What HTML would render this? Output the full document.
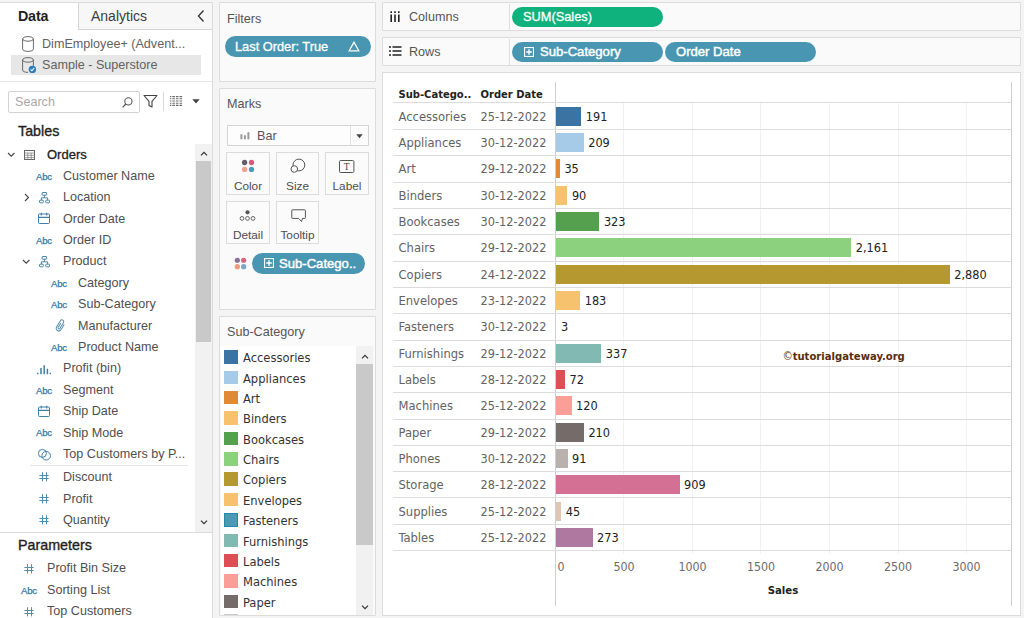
<!DOCTYPE html><html><head><meta charset="utf-8"><title>Tableau</title><style>
*{box-sizing:border-box;margin:0;padding:0}
html,body{width:1024px;height:618px;overflow:hidden;background:#f4f4f4}
body{position:relative;font-family:"Liberation Sans",sans-serif;font-size:12.6px;color:#4a4a4a}
.abs{position:absolute}
.t{position:absolute;white-space:nowrap;line-height:16px}
.card{position:absolute;background:#fafafa;border:1px solid #dcdcdc;border-radius:1px}
.pill{position:absolute;border-radius:11px;color:#fff;font-size:12.8px;line-height:21px;white-space:nowrap}
.blue{background:#4996b2}
.green{background:#0fb27c}
.ch{font-family:"DejaVu Sans Condensed","DejaVu Sans",sans-serif;font-size:12.6px;color:#636363}
.val{font-family:"DejaVu Sans Condensed","DejaVu Sans",sans-serif;font-size:12.6px;color:#222}
.hl{position:absolute;height:1px;background:#dcdcdc}
.vl{position:absolute;width:1px;background:#f1f1f1}
.ico{position:absolute}
</style></head><body>
<div class="abs" style="left:0;top:2px;width:213px;height:616px;background:#fff;border-right:1px solid #dcdcdc;border-top:1px solid #dcdcdc"></div>
<div class="abs" style="left:78px;top:3px;width:134px;height:27px;background:#f7f7f7;border-left:1px solid #d6d6d6;border-bottom:1px solid #d6d6d6"></div>
<div class="t" style="left:18px;top:8px;font-size:14.3px;font-weight:700;color:#1f1f1f;letter-spacing:-0.2px">Data</div>
<div class="t" style="left:91px;top:8px;font-size:14px;color:#3c3c3c">Analytics</div>
<svg class="ico" style="left:196px;top:9px" width="10" height="14" viewBox="0 0 10 14"><path d="M7.5 1.5 L2.5 7 L7.5 12.5" fill="none" stroke="#333" stroke-width="1.3"/></svg>
<div class="abs" style="left:11px;top:55px;width:190px;height:20px;background:#e7e7e7"></div>
<svg class="ico" style="left:21.7px;top:35.8px" width="12" height="16" viewBox="0 0 12 16"><path d="M0.6 2.9 a5.4 2.3 0 0 1 10.8 0 v10.2 a5.4 2.3 0 0 1 -10.8 0 Z" fill="#fff" stroke="#6b6b6b" stroke-width="1"/><path d="M0.6 2.9 a5.4 2.3 0 0 0 10.8 0" fill="none" stroke="#6b6b6b" stroke-width="1"/></svg>
<svg class="ico" style="left:21.7px;top:56.6px" width="16" height="17" viewBox="0 0 16 17"><path d="M0.6 2.9 a5.4 2.3 0 0 1 10.8 0 v6 M6 15.4 a5.4 2.3 0 0 1 -5.4 -2.3 v-10.2" fill="none" stroke="#6b6b6b" stroke-width="1"/><path d="M0.6 2.9 a5.4 2.3 0 0 0 10.8 0" fill="none" stroke="#6b6b6b" stroke-width="1"/><circle cx="10.4" cy="12.4" r="3.7" fill="#2f7db8"/><path d="M8.6 12.5 L9.9 13.8 L12.2 11" fill="none" stroke="#fff" stroke-width="1.1"/></svg>
<div class="t" style="left:42px;top:36.3px;color:#626262">DimEmployee+ (Advent...</div>
<div class="t" style="left:42px;top:56.9px;color:#626262">Sample - Superstore</div>
<div class="hl" style="left:0;top:80.5px;width:212px;background:#e8e8e8"></div>
<div class="abs" style="left:8px;top:90.5px;width:132px;height:22.7px;background:#fff;border:1px solid #d2d2d2;border-radius:2px"></div>
<div class="t" style="left:15px;top:94.4px;color:#a9a9a9;font-size:12.6px">Search</div>
<svg class="ico" style="left:121px;top:95.5px" width="13" height="13" viewBox="0 0 13 13"><circle cx="7.4" cy="5.4" r="3.6" fill="none" stroke="#555" stroke-width="1.1"/><path d="M4.8 8 L1.6 11.4" stroke="#555" stroke-width="1.2"/></svg>
<svg class="ico" style="left:143px;top:94px" width="15" height="15" viewBox="0 0 15 15"><path d="M1 1.5 H14 L9 7.3 V13 L6 11.4 V7.3 Z" fill="none" stroke="#444" stroke-width="1.1" stroke-linejoin="round"/></svg>
<div class="abs" style="left:163px;top:92px;width:1px;height:19px;background:#d8d8d8"></div>
<svg class="ico" style="left:170px;top:96px" width="13" height="10" viewBox="0 0 13 10"><g stroke="#6a6a6a" stroke-width="1.1" stroke-dasharray="1.3 1 2.6 1 2.6 1 2.6 20"><path d="M0 0.6H13M0 2.8H13M0 5H13M0 7.2H13M0 9.4H13"/></g></svg>
<svg class="ico" style="left:192px;top:99px" width="8" height="5" viewBox="0 0 8 5"><path d="M0.3 0.3 H7.7 L4 4.6 Z" fill="#444"/></svg>
<div class="t" style="left:18px;top:122.5px;font-size:14.3px;color:#1f1f1f;font-weight:400;-webkit-text-stroke:0.35px #1f1f1f">Tables</div>
<svg class="ico" style="left:7.3px;top:151.7px" width="9" height="6" viewBox="0 0 9 6"><path d="M1 1 L4.2 4.2 L7.4 1" fill="none" stroke="#444" stroke-width="1.1"/></svg>
<svg class="ico" style="left:23.5px;top:149.8px" width="11" height="10" viewBox="0 0 11 10"><rect x="0.5" y="0.5" width="10" height="9" fill="none" stroke="#666" stroke-width="1"/><path d="M0.5 3H10.5M0.5 5.3H10.5M0.5 7.6H10.5M3.8 3V9.5M7.2 3V9.5" stroke="#777" stroke-width="0.7"/></svg>
<div class="t" style="left:47px;top:146.8px;font-weight:400;-webkit-text-stroke:0.3px #222;color:#222;font-size:13px">Orders</div>
<div class="t" style="left:36px;top:169.5px;font-size:9.6px;color:#3577a3;line-height:14px;letter-spacing:-0.25px;-webkit-text-stroke:0.25px #3577a3">Abc</div>
<div class="t" style="left:63px;top:167.8px;color:#4f4f4f">Customer Name</div>
<svg class="ico" style="left:24px;top:192.8px" width="6" height="9" viewBox="0 0 6 9"><path d="M1 1 L4.5 4.5 L1 8" fill="none" stroke="#444" stroke-width="1.1"/></svg>
<svg class="ico" style="left:38.5px;top:191.5px" width="12" height="12" viewBox="0 0 12 12"><g fill="none" stroke="#3f7fa8" stroke-width="0.95"><rect x="3.2" y="0.5" width="4.4" height="2.7" rx="0.5"/><rect x="0.5" y="8.2" width="3.8" height="2.6" rx="0.8"/><rect x="6.7" y="8.2" width="3.8" height="2.6" rx="0.8"/><path d="M5.4 3.2V5.8M2.4 8.2V5.8H8.6V8.2"/></g></svg>
<div class="t" style="left:63px;top:189.20000000000002px;color:#4f4f4f">Location</div>
<svg class="ico" style="left:38px;top:212.2px" width="12" height="12" viewBox="0 0 12 12"><rect x="0.5" y="2" width="11" height="9.5" rx="1" fill="none" stroke="#3f7fa8" stroke-width="1"/><path d="M0.5 5.4H11.5M3.3 0.8V3.4M8.7 0.8V3.4" stroke="#3f7fa8" stroke-width="1.1"/></svg>
<div class="t" style="left:63px;top:210.6px;color:#4f4f4f">Order Date</div>
<div class="t" style="left:36px;top:233.7px;font-size:9.6px;color:#3577a3;line-height:14px;letter-spacing:-0.25px;-webkit-text-stroke:0.25px #3577a3">Abc</div>
<div class="t" style="left:63px;top:232.0px;color:#4f4f4f">Order ID</div>
<svg class="ico" style="left:22.3px;top:258.7px" width="9" height="6" viewBox="0 0 9 6"><path d="M1 1 L4.2 4.2 L7.4 1" fill="none" stroke="#444" stroke-width="1.1"/></svg>
<svg class="ico" style="left:38.5px;top:255.7px" width="12" height="12" viewBox="0 0 12 12"><g fill="none" stroke="#3f7fa8" stroke-width="0.95"><rect x="3.2" y="0.5" width="4.4" height="2.7" rx="0.5"/><rect x="0.5" y="8.2" width="3.8" height="2.6" rx="0.8"/><rect x="6.7" y="8.2" width="3.8" height="2.6" rx="0.8"/><path d="M5.4 3.2V5.8M2.4 8.2V5.8H8.6V8.2"/></g></svg>
<div class="t" style="left:63px;top:253.4px;color:#4f4f4f">Product</div>
<div class="t" style="left:51px;top:276.5px;font-size:9.6px;color:#3577a3;line-height:14px;letter-spacing:-0.25px;-webkit-text-stroke:0.25px #3577a3">Abc</div>
<div class="t" style="left:78px;top:274.79999999999995px;color:#4f4f4f">Category</div>
<div class="t" style="left:51px;top:297.90000000000003px;font-size:9.6px;color:#3577a3;line-height:14px;letter-spacing:-0.25px;-webkit-text-stroke:0.25px #3577a3">Abc</div>
<div class="t" style="left:78px;top:296.2px;color:#4f4f4f">Sub-Category</div>
<svg class="ico" style="left:53.8px;top:318.0px" width="13" height="15" viewBox="0 0 13 15"><g transform="rotate(32 6.5 7.5)" fill="none" stroke="#4a86ab" stroke-width="0.9"><path d="M9.1 4.6 V10.8 a2.6 2.6 0 0 1 -5.2 0 V3.5 a1.8 1.8 0 0 1 3.6 0 V10.3 a1 1 0 0 1 -2 0 V5.2"/></g></svg>
<div class="t" style="left:78px;top:317.59999999999997px;color:#4f4f4f">Manufacturer</div>
<div class="t" style="left:51px;top:340.70000000000005px;font-size:9.6px;color:#3577a3;line-height:14px;letter-spacing:-0.25px;-webkit-text-stroke:0.25px #3577a3">Abc</div>
<div class="t" style="left:78px;top:339.0px;color:#4f4f4f">Product Name</div>
<svg class="ico" style="left:37px;top:362.5px" width="14" height="12" viewBox="0 0 14 12"><path d="M0.8 9.8V11.3M4 5V11.3M7.2 2.2V11.3M10.4 5.8V11.3M13.4 9.8V11.3" stroke="#3f7fa8" stroke-width="1.5"/></svg>
<div class="t" style="left:63px;top:360.4px;color:#4f4f4f">Profit (bin)</div>
<div class="t" style="left:36px;top:383.5px;font-size:9.6px;color:#3577a3;line-height:14px;letter-spacing:-0.25px;-webkit-text-stroke:0.25px #3577a3">Abc</div>
<div class="t" style="left:63px;top:381.79999999999995px;color:#4f4f4f">Segment</div>
<svg class="ico" style="left:38px;top:404.8px" width="12" height="12" viewBox="0 0 12 12"><rect x="0.5" y="2" width="11" height="9.5" rx="1" fill="none" stroke="#3f7fa8" stroke-width="1"/><path d="M0.5 5.4H11.5M3.3 0.8V3.4M8.7 0.8V3.4" stroke="#3f7fa8" stroke-width="1.1"/></svg>
<div class="t" style="left:63px;top:403.2px;color:#4f4f4f">Ship Date</div>
<div class="t" style="left:36px;top:426.3px;font-size:9.6px;color:#3577a3;line-height:14px;letter-spacing:-0.25px;-webkit-text-stroke:0.25px #3577a3">Abc</div>
<div class="t" style="left:63px;top:424.59999999999997px;color:#4f4f4f">Ship Mode</div>
<svg class="ico" style="left:37px;top:446.6px" width="15" height="15" viewBox="0 0 15 15"><circle cx="5.4" cy="6.4" r="4" fill="none" stroke="#3b78a4" stroke-width="0.95"/><circle cx="9.2" cy="8.7" r="4.3" fill="none" stroke="#3b78a4" stroke-width="0.95"/></svg>
<div class="t" style="left:63px;top:446.0px;color:#4f4f4f">Top Customers by P...</div>
<div class="hl" style="left:30px;top:465px;width:158px;background:#e5e5e5"></div>
<svg class="ico" style="left:39px;top:472px" width="10" height="10" viewBox="0 0 10 10"><path d="M3.5 0.2V9.4M7.5 0.2V9.4M0.4 3.5H9.6M0.4 6.5H9.6" stroke="#4c8db0" stroke-width="1" fill="none"/></svg>
<div class="t" style="left:63px;top:469.2px;color:#4f4f4f">Discount</div>
<svg class="ico" style="left:39px;top:494px" width="10" height="10" viewBox="0 0 10 10"><path d="M3.5 0.2V9.4M7.5 0.2V9.4M0.4 3.5H9.6M0.4 6.5H9.6" stroke="#4c8db0" stroke-width="1" fill="none"/></svg>
<div class="t" style="left:63px;top:490.59999999999997px;color:#4f4f4f">Profit</div>
<svg class="ico" style="left:39px;top:515px" width="10" height="10" viewBox="0 0 10 10"><path d="M3.5 0.2V9.4M7.5 0.2V9.4M0.4 3.5H9.6M0.4 6.5H9.6" stroke="#4c8db0" stroke-width="1" fill="none"/></svg>
<div class="t" style="left:63px;top:512.0px;color:#4f4f4f">Quantity</div>
<div class="abs" style="left:195px;top:144px;width:17px;height:388px;background:#f1f1f1"></div>
<div class="abs" style="left:195.5px;top:161px;width:15.5px;height:181px;background:#c9c9c9"></div>
<svg class="ico" style="left:200px;top:151px" width="8" height="5" viewBox="0 0 8 5"><path d="M1 4.4 L4 1.4 L7 4.4" fill="none" stroke="#333" stroke-width="1.2"/></svg>
<svg class="ico" style="left:200px;top:520px" width="8" height="5" viewBox="0 0 8 5"><path d="M1 0.7 L4 3.7 L7 0.7" fill="none" stroke="#333" stroke-width="1.2"/></svg>
<div class="hl" style="left:0;top:532px;width:212px;background:#dcdcdc"></div>
<div class="t" style="left:18px;top:536.8px;font-size:14.3px;color:#1f1f1f;-webkit-text-stroke:0.35px #1f1f1f">Parameters</div>
<svg class="ico" style="left:24px;top:564px" width="10" height="10" viewBox="0 0 10 10"><path d="M3.5 0.2V9.4M7.5 0.2V9.4M0.4 3.5H9.6M0.4 6.5H9.6" stroke="#4c8db0" stroke-width="1" fill="none"/></svg>
<div class="t" style="left:47px;top:560.4px;color:#4f4f4f">Profit Bin Size</div>
<div class="t" style="left:21px;top:583.6px;font-size:9.6px;color:#3577a3;line-height:14px;letter-spacing:-0.25px;-webkit-text-stroke:0.25px #3577a3">Abc</div>
<div class="t" style="left:47px;top:581.9px;color:#4f4f4f">Sorting List</div>
<svg class="ico" style="left:24px;top:607px" width="10" height="10" viewBox="0 0 10 10"><path d="M3.5 0.2V9.4M7.5 0.2V9.4M0.4 3.5H9.6M0.4 6.5H9.6" stroke="#4c8db0" stroke-width="1" fill="none"/></svg>
<div class="t" style="left:47px;top:603.4px;color:#4f4f4f">Top Customers</div>
<div class="card" style="left:219px;top:2px;width:157px;height:80px"></div>
<div class="t" style="left:227px;top:11px;color:#555;font-size:12.6px">Filters</div>
<div class="pill blue" style="left:225px;top:36px;width:146px;height:21px;padding-left:10px;-webkit-text-stroke:0.3px #fff">Last Order: True</div>
<svg class="ico" style="left:348px;top:41px" width="12" height="11" viewBox="0 0 12 11"><path d="M6 1.2 L10.8 9.8 H1.2 Z" fill="none" stroke="#fff" stroke-width="1.3"/></svg>
<div class="card" style="left:219px;top:88px;width:157px;height:222px"></div>
<div class="t" style="left:227px;top:96px;color:#555;font-size:12.6px">Marks</div>
<div class="abs" style="left:227px;top:125px;width:142px;height:21px;background:#fdfdfd;border:1px solid #d4d4d4"></div>
<div class="abs" style="left:350px;top:126px;width:1px;height:19px;background:#e0e0e0"></div>
<svg class="ico" style="left:240px;top:130px" width="10" height="10" viewBox="0 0 10 10"><path d="M1.4 4.2V9.2M4.9 5.2V9.2M8.4 2.2V9.2" stroke="#9a9a9a" stroke-width="2"/></svg>
<div class="t" style="left:257px;top:127.7px;color:#555">Bar</div>
<svg class="ico" style="left:356px;top:134px" width="7" height="5" viewBox="0 0 7 5"><path d="M0.3 0.3 H6.7 L3.5 4.3 Z" fill="#444"/></svg>
<div class="abs" style="left:226px;top:152px;width:44px;height:43px;background:#fbfbfb;border:1px solid #dcdcdc"></div>
<svg class="ico" style="left:240.5px;top:159px" width="14" height="14" viewBox="0 0 14 14"><circle cx="3.6" cy="3.5" r="2.65" fill="#625e6a"/><circle cx="10.5" cy="3.5" r="2.65" fill="#d45c7c"/><circle cx="3.6" cy="10.4" r="2.65" fill="#f4a08e"/><circle cx="10.5" cy="10.4" r="2.65" fill="#4d9ab8"/></svg>
<div class="t" style="left:226px;top:178px;width:44px;text-align:center;color:#4d4d4d;font-size:11.8px">Color</div>
<div class="abs" style="left:276px;top:152px;width:43px;height:43px;background:#fbfbfb;border:1px solid #dcdcdc"></div>
<svg class="ico" style="left:289px;top:158px" width="17" height="17" viewBox="0 0 17 17"><circle cx="9.9" cy="7" r="5.9" fill="none" stroke="#555" stroke-width="1"/><circle cx="5.3" cy="11" r="3.3" fill="#fbfbfb" stroke="#555" stroke-width="1"/></svg>
<div class="t" style="left:276px;top:178px;width:43px;text-align:center;color:#4d4d4d;font-size:11.8px">Size</div>
<div class="abs" style="left:325px;top:152px;width:44px;height:43px;background:#fbfbfb;border:1px solid #dcdcdc"></div>
<svg class="ico" style="left:339px;top:160px" width="16" height="13" viewBox="0 0 16 13"><rect x="0.5" y="0.5" width="14.4" height="12" rx="1.2" fill="none" stroke="#555" stroke-width="1"/><text x="7.7" y="10" font-family="Liberation Serif,serif" font-size="9.5" text-anchor="middle" fill="#444">T</text></svg>
<div class="t" style="left:325px;top:178px;width:44px;text-align:center;color:#4d4d4d;font-size:11.8px">Label</div>
<div class="abs" style="left:226px;top:201px;width:44px;height:43px;background:#fbfbfb;border:1px solid #dcdcdc"></div>
<svg class="ico" style="left:239px;top:209.6px" width="17" height="11" viewBox="0 0 17 11"><circle cx="8.5" cy="2.3" r="2.1" fill="#555"/><circle cx="3" cy="8.4" r="1.9" fill="none" stroke="#555" stroke-width="0.9"/><circle cx="8.5" cy="8.4" r="1.9" fill="none" stroke="#555" stroke-width="0.9"/><circle cx="14" cy="8.4" r="1.9" fill="none" stroke="#555" stroke-width="0.9"/></svg>
<div class="t" style="left:226px;top:227px;width:44px;text-align:center;color:#4d4d4d;font-size:11.8px">Detail</div>
<div class="abs" style="left:276px;top:201px;width:43px;height:43px;background:#fbfbfb;border:1px solid #dcdcdc"></div>
<svg class="ico" style="left:290.5px;top:208.7px" width="16" height="14" viewBox="0 0 16 14"><path d="M1.5 0.8 H13.7 Q14.4 0.8 14.4 1.5 V8.7 Q14.4 9.4 13.7 9.4 H11.4 L10.6 12.6 L7.6 9.4 H1.5 Q0.8 9.4 0.8 8.7 V1.5 Q0.8 0.8 1.5 0.8 Z" fill="none" stroke="#555" stroke-width="1"/></svg>
<div class="t" style="left:276px;top:227px;width:43px;text-align:center;color:#4d4d4d;font-size:11.8px">Tooltip</div>
<svg class="ico" style="left:234px;top:256.5px" width="13" height="13" viewBox="0 0 14 14"><circle cx="3.6" cy="3.5" r="2.8" fill="#8d6f95"/><circle cx="10.4" cy="3.5" r="2.8" fill="#d4657f"/><circle cx="3.6" cy="10.4" r="2.8" fill="#f09a7c"/><circle cx="10.4" cy="10.4" r="2.8" fill="#79a8c8"/></svg>
<div class="pill blue" style="left:252px;top:253px;width:113px;height:21px;padding-left:27px;font-size:13.1px;-webkit-text-stroke:0.45px #fff">Sub-Catego..</div>
<svg class="ico" style="left:263.5px;top:257.8px" width="10" height="10" viewBox="0 0 10 10"><rect x="0.5" y="0.5" width="9" height="9" fill="none" stroke="#fff" stroke-width="1.2"/><path d="M5 2.2V7.8M2.2 5H7.8" stroke="#fff" stroke-width="1.4"/></svg>
<div class="card" style="left:219px;top:316px;width:157px;height:300px"></div>
<div class="t" style="left:227px;top:324px;color:#555;font-size:12.6px">Sub-Category</div>
<div class="abs" style="left:221px;top:346px;width:152px;height:269px;background:#fff"></div>
<div class="abs" style="left:223.5px;top:350.2px;width:14px;height:13.5px;background:#3b73a2"></div>
<div class="t ch" style="left:243px;top:350.2px;color:#333;font-size:12.8px">Accessories</div>
<div class="abs" style="left:223.5px;top:370.6px;width:14px;height:13.5px;background:#a5cbe8"></div>
<div class="t ch" style="left:243px;top:370.6px;color:#333;font-size:12.8px">Appliances</div>
<div class="abs" style="left:223.5px;top:390.9px;width:14px;height:13.5px;background:#e08a35"></div>
<div class="t ch" style="left:243px;top:390.9px;color:#333;font-size:12.8px">Art</div>
<div class="abs" style="left:223.5px;top:411.3px;width:14px;height:13.5px;background:#f6c26e"></div>
<div class="t ch" style="left:243px;top:411.3px;color:#333;font-size:12.8px">Binders</div>
<div class="abs" style="left:223.5px;top:431.7px;width:14px;height:13.5px;background:#55a04e"></div>
<div class="t ch" style="left:243px;top:431.7px;color:#333;font-size:12.8px">Bookcases</div>
<div class="abs" style="left:223.5px;top:452.1px;width:14px;height:13.5px;background:#8bd17e"></div>
<div class="t ch" style="left:243px;top:452.1px;color:#333;font-size:12.8px">Chairs</div>
<div class="abs" style="left:223.5px;top:472.4px;width:14px;height:13.5px;background:#b5982f"></div>
<div class="t ch" style="left:243px;top:472.4px;color:#333;font-size:12.8px">Copiers</div>
<div class="abs" style="left:223.5px;top:492.8px;width:14px;height:13.5px;background:#f6c26e"></div>
<div class="t ch" style="left:243px;top:492.8px;color:#333;font-size:12.8px">Envelopes</div>
<div class="abs" style="left:223.5px;top:513.2px;width:14px;height:13.5px;background:#4b9ab2;box-shadow:inset 0 0 0 1px #2389a8"></div>
<div class="t ch" style="left:243px;top:513.2px;color:#333;font-size:12.8px">Fasteners</div>
<div class="abs" style="left:223.5px;top:533.5px;width:14px;height:13.5px;background:#82bab3"></div>
<div class="t ch" style="left:243px;top:533.5px;color:#333;font-size:12.8px">Furnishings</div>
<div class="abs" style="left:223.5px;top:553.9px;width:14px;height:13.5px;background:#de4f55"></div>
<div class="t ch" style="left:243px;top:553.9px;color:#333;font-size:12.8px">Labels</div>
<div class="abs" style="left:223.5px;top:574.3px;width:14px;height:13.5px;background:#fb9e97"></div>
<div class="t ch" style="left:243px;top:574.3px;color:#333;font-size:12.8px">Machines</div>
<div class="abs" style="left:223.5px;top:594.6px;width:14px;height:13.5px;background:#756b69"></div>
<div class="t ch" style="left:243px;top:594.6px;color:#333;font-size:12.8px">Paper</div>
<div class="abs" style="left:223.5px;top:614px;width:14px;height:1px;background:#cfcac8"></div>
<div class="abs" style="left:356px;top:346px;width:17px;height:269px;background:#f1f1f1"></div>
<div class="abs" style="left:356px;top:364px;width:17px;height:181px;background:#c9c9c9"></div>
<svg class="ico" style="left:360.5px;top:354px" width="8" height="5" viewBox="0 0 8 5"><path d="M1 4.4 L4 1.4 L7 4.4" fill="none" stroke="#333" stroke-width="1.2"/></svg>
<svg class="ico" style="left:360.5px;top:605px" width="8" height="5" viewBox="0 0 8 5"><path d="M1 0.7 L4 3.7 L7 0.7" fill="none" stroke="#333" stroke-width="1.2"/></svg>
<div class="card" style="left:382px;top:2px;width:639px;height:29px"></div>
<div class="abs" style="left:509px;top:4px;width:1px;height:26px;background:#dedede"></div>
<svg class="ico" style="left:390px;top:10.6px" width="10" height="11" viewBox="0 0 10 11"><path d="M1.2 3.4V11M5 3.4V11M8.8 3.4V11" stroke="#222" stroke-width="1.6"/><path d="M1.2 0.2V2.1M5 0.2V2.1M8.8 0.2V2.1" stroke="#222" stroke-width="1.6"/></svg>
<div class="t" style="left:409px;top:8.6px;color:#555">Columns</div>
<div class="pill green" style="left:512px;top:7px;width:151px;height:20px;padding-left:11px;line-height:20px;-webkit-text-stroke:0.3px #fff">SUM(Sales)</div>
<div class="card" style="left:382px;top:37px;width:639px;height:29px"></div>
<div class="abs" style="left:509px;top:38.5px;width:1px;height:26px;background:#dedede"></div>
<svg class="ico" style="left:389px;top:46px" width="13" height="10" viewBox="0 0 13 10"><path d="M3.5 1H12.5M3.5 5H12.5M3.5 9H12.5" stroke="#222" stroke-width="1.5"/><path d="M0 1H2M0 5H2M0 9H2" stroke="#222" stroke-width="1.5"/></svg>
<div class="t" style="left:409px;top:44px;color:#555">Rows</div>
<div class="pill blue" style="left:512px;top:41.6px;width:151px;height:20px;padding-left:28px;line-height:20px;font-size:13.1px;-webkit-text-stroke:0.45px #fff">Sub-Category</div>
<svg class="ico" style="left:524px;top:46.6px" width="10" height="10" viewBox="0 0 10 10"><rect x="0.5" y="0.5" width="9" height="9" fill="none" stroke="#fff" stroke-width="1.2"/><path d="M5 2.2V7.8M2.2 5H7.8" stroke="#fff" stroke-width="1.4"/></svg>
<div class="pill blue" style="left:665px;top:41.6px;width:151px;height:20px;padding-left:11px;line-height:20px;font-size:13.1px;-webkit-text-stroke:0.45px #fff">Order Date</div>
<div class="abs" style="left:382px;top:72px;width:639px;height:544px;background:#fff;border:1px solid #dcdcdc"></div>
<div class="vl" style="left:623px;top:103px;height:451px"></div>
<div class="vl" style="left:692px;top:103px;height:451px"></div>
<div class="vl" style="left:760px;top:103px;height:451px"></div>
<div class="vl" style="left:829px;top:103px;height:451px"></div>
<div class="vl" style="left:898px;top:103px;height:451px"></div>
<div class="vl" style="left:966px;top:103px;height:451px"></div>
<div class="t" style="left:398.5px;top:87px;font-family:'DejaVu Sans Condensed',sans-serif;font-weight:700;font-size:11.1px;color:#222">Sub-Catego..</div>
<div class="t" style="left:480.5px;top:87px;font-family:'DejaVu Sans Condensed',sans-serif;font-weight:700;font-size:11.1px;color:#222">Order Date</div>
<div class="abs" style="left:555px;top:82px;width:1px;height:524px;background:#cfcfcf"></div>
<div class="abs" style="left:1011px;top:82px;width:1px;height:524px;background:#cfcfcf"></div>
<div class="hl" style="left:393px;top:102px;width:619px"></div>
<div class="t ch" style="left:398.5px;top:108.7px;font-size:12.85px">Accessories</div>
<div class="t ch" style="left:480.5px;top:108.7px">25-12-2022</div>
<div class="abs" style="left:555.5px;top:106.6px;width:25.8px;height:19px;background:#3b73a2"></div>
<div class="t val" style="left:585.8px;top:108.6px">191</div>
<div class="hl" style="left:393px;top:128.8px;width:619px"></div>
<div class="t ch" style="left:398.5px;top:135.0px;font-size:12.85px">Appliances</div>
<div class="t ch" style="left:480.5px;top:135.0px">30-12-2022</div>
<div class="abs" style="left:555.5px;top:132.9px;width:28.2px;height:19px;background:#a5cbe8"></div>
<div class="t val" style="left:588.2px;top:134.9px">209</div>
<div class="hl" style="left:393px;top:155.2px;width:619px"></div>
<div class="t ch" style="left:398.5px;top:161.3px;font-size:12.85px">Art</div>
<div class="t ch" style="left:480.5px;top:161.3px">29-12-2022</div>
<div class="abs" style="left:555.5px;top:159.3px;width:4.4px;height:19px;background:#e08a35"></div>
<div class="t val" style="left:564.4px;top:161.2px">35</div>
<div class="hl" style="left:393px;top:181.5px;width:619px"></div>
<div class="t ch" style="left:398.5px;top:187.7px;font-size:12.85px">Binders</div>
<div class="t ch" style="left:480.5px;top:187.7px">30-12-2022</div>
<div class="abs" style="left:555.5px;top:185.6px;width:11.9px;height:19px;background:#f6c26e"></div>
<div class="t val" style="left:571.9px;top:187.6px">90</div>
<div class="hl" style="left:393px;top:207.8px;width:619px"></div>
<div class="t ch" style="left:398.5px;top:214.0px;font-size:12.85px">Bookcases</div>
<div class="t ch" style="left:480.5px;top:214.0px">30-12-2022</div>
<div class="abs" style="left:555.5px;top:211.9px;width:43.9px;height:19px;background:#55a04e"></div>
<div class="t val" style="left:603.9px;top:213.9px">323</div>
<div class="hl" style="left:393px;top:234.1px;width:619px"></div>
<div class="t ch" style="left:398.5px;top:240.3px;font-size:12.85px">Chairs</div>
<div class="t ch" style="left:480.5px;top:240.3px">29-12-2022</div>
<div class="abs" style="left:555.5px;top:238.2px;width:295.7px;height:19px;background:#8bd17e"></div>
<div class="t val" style="left:855.7px;top:240.2px">2,161</div>
<div class="hl" style="left:393px;top:260.5px;width:619px"></div>
<div class="t ch" style="left:398.5px;top:266.6px;font-size:12.85px">Copiers</div>
<div class="t ch" style="left:480.5px;top:266.6px">24-12-2022</div>
<div class="abs" style="left:555.5px;top:264.6px;width:394.2px;height:19px;background:#b5982f"></div>
<div class="t val" style="left:954.2px;top:266.5px">2,880</div>
<div class="hl" style="left:393px;top:286.8px;width:619px"></div>
<div class="t ch" style="left:398.5px;top:293.0px;font-size:12.85px">Envelopes</div>
<div class="t ch" style="left:480.5px;top:293.0px">23-12-2022</div>
<div class="abs" style="left:555.5px;top:290.9px;width:24.7px;height:19px;background:#f6c26e"></div>
<div class="t val" style="left:584.7px;top:292.9px">183</div>
<div class="hl" style="left:393px;top:313.1px;width:619px"></div>
<div class="t ch" style="left:398.5px;top:319.3px;font-size:12.85px">Fasteners</div>
<div class="t ch" style="left:480.5px;top:319.3px">30-12-2022</div>
<div class="abs" style="left:555.5px;top:317.2px;width:0.0px;height:19px;background:#4b9ab2;box-shadow:inset 0 0 0 1px #2389a8"></div>
<div class="t val" style="left:561.0px;top:319.2px">3</div>
<div class="hl" style="left:393px;top:339.5px;width:619px"></div>
<div class="t ch" style="left:398.5px;top:345.6px;font-size:12.85px">Furnishings</div>
<div class="t ch" style="left:480.5px;top:345.6px">29-12-2022</div>
<div class="abs" style="left:555.5px;top:343.6px;width:45.8px;height:19px;background:#82bab3"></div>
<div class="t val" style="left:605.8px;top:345.5px">337</div>
<div class="hl" style="left:393px;top:365.8px;width:619px"></div>
<div class="t ch" style="left:398.5px;top:372.0px;font-size:12.85px">Labels</div>
<div class="t ch" style="left:480.5px;top:372.0px">28-12-2022</div>
<div class="abs" style="left:555.5px;top:369.9px;width:9.5px;height:19px;background:#de4f55"></div>
<div class="t val" style="left:569.5px;top:371.9px">72</div>
<div class="hl" style="left:393px;top:392.1px;width:619px"></div>
<div class="t ch" style="left:398.5px;top:398.3px;font-size:12.85px">Machines</div>
<div class="t ch" style="left:480.5px;top:398.3px">25-12-2022</div>
<div class="abs" style="left:555.5px;top:396.2px;width:16.0px;height:19px;background:#fb9e97"></div>
<div class="t val" style="left:576.0px;top:398.2px">120</div>
<div class="hl" style="left:393px;top:418.5px;width:619px"></div>
<div class="t ch" style="left:398.5px;top:424.6px;font-size:12.85px">Paper</div>
<div class="t ch" style="left:480.5px;top:424.6px">29-12-2022</div>
<div class="abs" style="left:555.5px;top:422.6px;width:28.4px;height:19px;background:#756b69"></div>
<div class="t val" style="left:588.4px;top:424.5px">210</div>
<div class="hl" style="left:393px;top:444.8px;width:619px"></div>
<div class="t ch" style="left:398.5px;top:451.0px;font-size:12.85px">Phones</div>
<div class="t ch" style="left:480.5px;top:451.0px">30-12-2022</div>
<div class="abs" style="left:555.5px;top:448.9px;width:12.1px;height:19px;background:#b8b1ae"></div>
<div class="t val" style="left:572.1px;top:450.9px">91</div>
<div class="hl" style="left:393px;top:471.1px;width:619px"></div>
<div class="t ch" style="left:398.5px;top:477.3px;font-size:12.85px">Storage</div>
<div class="t ch" style="left:480.5px;top:477.3px">28-12-2022</div>
<div class="abs" style="left:555.5px;top:475.2px;width:124.1px;height:19px;background:#d47094"></div>
<div class="t val" style="left:684.1px;top:477.2px">909</div>
<div class="hl" style="left:393px;top:497.4px;width:619px"></div>
<div class="t ch" style="left:398.5px;top:503.6px;font-size:12.85px">Supplies</div>
<div class="t ch" style="left:480.5px;top:503.6px">25-12-2022</div>
<div class="abs" style="left:555.5px;top:501.6px;width:5.8px;height:19px;background:#dfc6b4"></div>
<div class="t val" style="left:565.8px;top:503.5px">45</div>
<div class="hl" style="left:393px;top:523.8px;width:619px"></div>
<div class="t ch" style="left:398.5px;top:529.9px;font-size:12.85px">Tables</div>
<div class="t ch" style="left:480.5px;top:529.9px">25-12-2022</div>
<div class="abs" style="left:555.5px;top:527.9px;width:37.0px;height:19px;background:#ae78a0"></div>
<div class="t val" style="left:597.0px;top:529.8px">273</div>
<div class="hl" style="left:393px;top:550.1px;width:619px"></div>
<div class="t ch" style="left:557.5px;top:559px;font-size:12.3px;color:#6a6a6a">0</div>
<div class="t ch" style="left:594.0px;top:559px;width:60px;text-align:center;font-size:12.3px;color:#6a6a6a">500</div>
<div class="t ch" style="left:662.5px;top:559px;width:60px;text-align:center;font-size:12.3px;color:#6a6a6a">1000</div>
<div class="t ch" style="left:731.0px;top:559px;width:60px;text-align:center;font-size:12.3px;color:#6a6a6a">1500</div>
<div class="t ch" style="left:799.5px;top:559px;width:60px;text-align:center;font-size:12.3px;color:#6a6a6a">2000</div>
<div class="t ch" style="left:868.0px;top:559px;width:60px;text-align:center;font-size:12.3px;color:#6a6a6a">2500</div>
<div class="t ch" style="left:936.5px;top:559px;width:60px;text-align:center;font-size:12.3px;color:#6a6a6a">3000</div>
<div class="t" style="left:753px;top:583.4px;width:60px;text-align:center;font-family:'DejaVu Sans Condensed',sans-serif;font-weight:700;font-size:11.3px;color:#222">Sales</div>
<div class="t" style="left:782.5px;top:348.3px;font-family:'DejaVu Sans Condensed',sans-serif;font-weight:700;font-size:11.2px;color:#5a2d0c"><span style="font-weight:400;font-size:11.6px;letter-spacing:-0.3px">©</span>tutorialgateway.org</div>
</body></html>
